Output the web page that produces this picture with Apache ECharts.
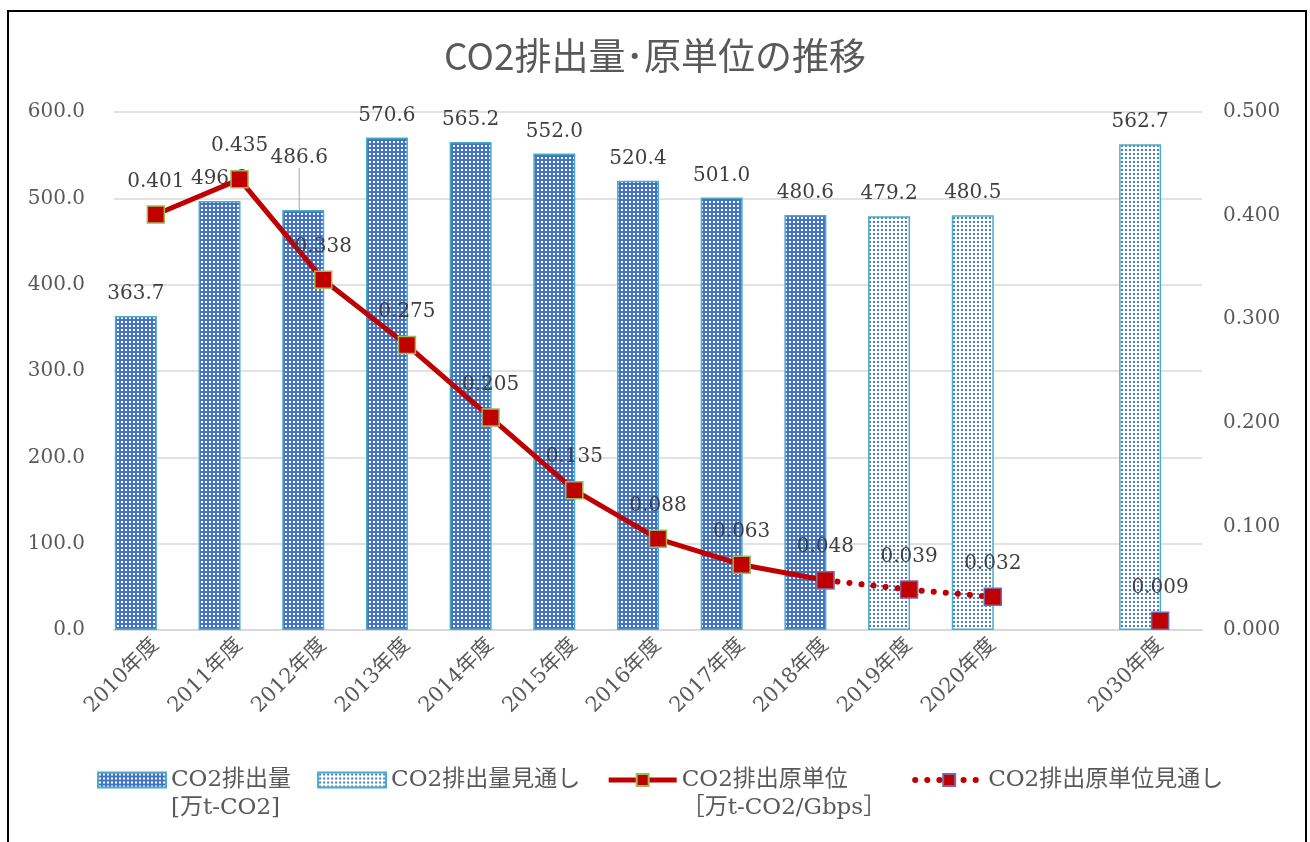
<!DOCTYPE html>
<html>
<head>
<meta charset="utf-8">
<title>CO2排出量・原単位の推移</title>
<script src="https://cdn.jsdelivr.net/npm/echarts@6/dist/echarts.min.js"></script>
<style>
  html, body { margin: 0; padding: 0; background: #fff; }
  #chart { width: 1310px; height: 842px; }
  /* 外枠 */
  #frame { position: absolute; left: 7px; top: 10px; width: 1300px; height: 900px;
           border: 2px solid #000; box-sizing: border-box; pointer-events: none; }
</style>
</head>
<body>
<div id="chart"></div>
<div id="frame"></div>
<script>
// 年度（2021〜2029は省略、空欄1つ）
const years = ['2010年度', '2011年度', '2012年度', '2013年度', '2014年度', '2015年度',
  '2016年度', '2017年度', '2018年度', '2019年度', '2020年度', '', '2030年度'];
// CO2排出量 [万t-CO2]
const co2Actual = [363.7, 496.8, 486.6, 570.6, 565.2, 552.0, 520.4, 501.0, 480.6, null, null, null, null];
const co2Forecast = [null, null, null, null, null, null, null, null, null, 479.2, 480.5, null, 562.7];
// CO2排出原単位 [万t-CO2/Gbps]
const rateActual = [0.401, 0.435, 0.338, 0.275, 0.205, 0.135, 0.088, 0.063, 0.048, null, null, null, null];
const rateForecast = [null, null, null, null, null, null, null, null, 0.048, 0.039, 0.032, null, 0.009];
// 軸の目盛り [min, max, interval]
const leftTicks = [0, 600, 100];
const rightTicks = [0, 0.5, 0.1];

const serif = "'DejaVu Serif', 'Noto Sans CJK JP', serif";
const textColor = '#595959';
const labelColor = '#404040';

// 網掛けパターン
function makePattern(bg, dot, size, dotSize) {
  const c = document.createElement('canvas');
  c.width = size;
  c.height = size;
  const ctx = c.getContext('2d');
  ctx.fillStyle = bg;
  ctx.fillRect(0, 0, size, size);
  ctx.fillStyle = dot;
  ctx.fillRect(1, 1, dotSize, dotSize);
  return c;
}
const actualFill = { image: makePattern('#4472c4', '#ffffff', 4, 2), repeat: 'repeat' };
const forecastFill = { image: makePattern('#ffffff', '#4a7cc8', 4, 2), repeat: 'repeat' };

const chart = echarts.init(document.getElementById('chart'));

const option = {
  backgroundColor: '#fff',
  animation: false,
  title: {
    text: 'CO2排出量･原単位の推移',
    left: 'center',
    top: 32,
    textStyle: { fontFamily: "'Noto Sans CJK JP', sans-serif", fontSize: 37, fontWeight: 'normal', color: textColor }
  },
  legend: {
    left: 97,
    top: 738,
    padding: 0,
    itemGap: 26,
    itemWidth: 68,
    itemHeight: 15,
    textStyle: { fontFamily: serif, fontSize: 23, color: textColor, lineHeight: 28 },
    // 2行の凡例は1行目をアイコンの高さに合わせる
    formatter: function (name) {
      if (name === 'CO2排出量') return '\n' + name + '\n[万t-CO2]';
      if (name === 'CO2排出原単位') return '\n' + name + '\n［万t-CO2/Gbps］';
      return name;
    },
    data: [
      { name: 'CO2排出量', icon: 'rect' },
      { name: 'CO2排出量見通し', icon: 'rect' },
      { name: 'CO2排出原単位', lineStyle: { width: 5 } },
      { name: 'CO2排出原単位見通し', lineStyle: { width: 6 } }
    ]
  },
  grid: { left: 114, right: 108, top: 112, bottom: 212, outerBoundsMode: 'none' },
  xAxis: {
    type: 'category',
    data: years,
    axisLine: { lineStyle: { color: '#d9d9d9', width: 2 } },
    axisTick: { show: false },
    axisLabel: { interval: 0, rotate: 45, margin: 12, fontFamily: serif, fontSize: 21, color: textColor }
  },
  yAxis: [
    {
      type: 'value',
      min: leftTicks[0], max: leftTicks[1], interval: leftTicks[2],
      axisLine: { show: false },
      axisTick: { show: false },
      splitLine: { lineStyle: { color: '#d9d9d9', width: 1.5 } },
      axisLabel: { margin: 29, fontFamily: serif, fontSize: 20, color: textColor,
        formatter: v => v.toFixed(1) }
    },
    {
      type: 'value',
      min: rightTicks[0], max: rightTicks[1], interval: rightTicks[2],
      axisLine: { show: false },
      axisTick: { show: false },
      splitLine: { show: false },
      axisLabel: { margin: 21, fontFamily: serif, fontSize: 20, color: textColor,
        formatter: v => v.toFixed(3) }
    }
  ],
  series: [
    {
      name: 'CO2排出量',
      type: 'bar',
      stack: 'co2',
      barWidth: 42,
      barGap: '0%',
      // 2012年度のラベルは引き出し線付きで上へ
      data: co2Actual.map((v, i) => (i === 2
        ? { value: v, labelLine: { show: true, lineStyle: { color: '#a6a6a6', width: 1 } } }
        : v)),
      itemStyle: { color: actualFill, borderColor: '#4bacc6', borderWidth: 1.5 },
      label: { show: true, position: 'top', distance: 12, fontFamily: serif, fontSize: 20, color: labelColor,
        formatter: p => p.value.toFixed(1) },
      labelLayout: function (p) {
        if (p.dataIndex === 2) return { dy: -30, dx: -4 };
        return {};
      },
      z: 2
    },
    {
      name: 'CO2排出量見通し',
      type: 'bar',
      stack: 'co2',
      barWidth: 42,
      barGap: '0%',
      data: co2Forecast,
      itemStyle: { color: forecastFill, borderColor: '#4bacc6', borderWidth: 1.5 },
      label: { show: true, position: 'top', distance: 12, fontFamily: serif, fontSize: 20, color: labelColor,
        formatter: p => p.value.toFixed(1) },
      z: 2
    },
    {
      // 棒を左へずらすための空の列
      name: 'spacer',
      type: 'bar',
      stack: 'spacer',
      barWidth: 40,
      barGap: '0%',
      data: []
    },
    {
      name: 'CO2排出原単位',
      type: 'line',
      yAxisIndex: 1,
      data: rateActual,
      symbol: 'rect',
      symbolSize: 17,
      lineStyle: { color: '#c00000', width: 5 },
      itemStyle: { color: '#c00000', borderColor: '#9bbb59', borderWidth: 1.5 },
      label: { show: true, position: 'top', distance: 14, fontFamily: serif, fontSize: 20, color: labelColor,
        formatter: p => p.value.toFixed(3) },
      z: 4
    },
    {
      name: 'CO2排出原単位見通し',
      type: 'line',
      yAxisIndex: 1,
      data: rateForecast.map((v, i) => (i === 8 ? { value: v, label: { show: false } } : v)),
      symbol: 'rect',
      symbolSize: 17,
      lineStyle: { color: '#c00000', width: 6, type: [0.1, 12], cap: 'round' },
      itemStyle: { color: '#c00000', borderColor: '#8064a2', borderWidth: 1.5 },
      label: { show: true, position: 'top', distance: 14, fontFamily: serif, fontSize: 20, color: labelColor,
        formatter: p => p.value.toFixed(3) },
      z: 5
    }
  ]
};

chart.setOption(option);
</script>
</body>
</html>
